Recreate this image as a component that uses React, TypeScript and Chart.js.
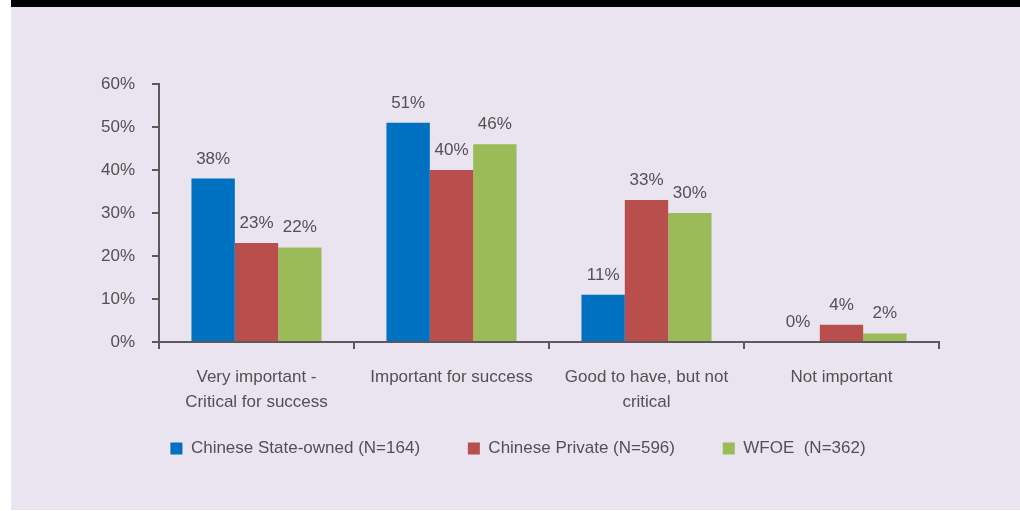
import React, { useEffect, useRef } from "react";
import { Chart, registerables } from "chart.js";

Chart.register(...registerables);

const categories: string[][] = [
  ["Very important -", "Critical for success"],
  ["Important for success"],
  ["Good to have, but not", "critical"],
  ["Not important"],
];
const seriesNames = ["Chinese State-owned (N=164)", "Chinese Private (N=596)", "WFOE  (N=362)"];
const stateOwned = [38, 51, 11, 0];
const privateCos = [23, 40, 33, 4];
const wfoe = [22, 46, 30, 2];
const yTicks = [0, 10, 20, 30, 40, 50, 60];
const colors = ["#0070c0", "#b94f4c", "#9bbb59"];

const FONT = "'Liberation Sans', Arial, sans-serif";
const FS = 17;
const TEXT = "#505153";
const AXIS = "#5a5a5c";

const labelPlugin = {
  id: "barValueLabels",
  afterDatasetsDraw(chart: any) {
    const ctx = chart.ctx;
    ctx.save();
    ctx.font = `${FS}px ${FONT}`;
    ctx.fillStyle = TEXT;
    ctx.textAlign = "center";
    ctx.textBaseline = "alphabetic";
    chart.data.datasets.forEach((ds: any, i: number) => {
      const meta = chart.getDatasetMeta(i);
      meta.data.forEach((bar: any, j: number) => {
        ctx.fillText(`${ds.data[j]}%`, bar.x, bar.y - 15);
      });
    });
    ctx.restore();
  },
};

export default function App() {
  const ref = useRef<HTMLCanvasElement>(null);
  useEffect(() => {
    if (!ref.current) return;
    const series = [stateOwned, privateCos, wfoe];
    const chart = new Chart(ref.current, {
      type: "bar",
      data: {
        labels: categories,
        datasets: series.map((d, i) => ({
          label: seriesNames[i],
          data: d,
          backgroundColor: colors[i],
          borderWidth: 0,
          categoryPercentage: 0.667,
          barPercentage: 1,
        })),
      },
      options: {
        animation: false,
        responsive: false,
        maintainAspectRatio: false,
        layout: { padding: { left: 97, right: 81, top: 84, bottom: 44 } },
        plugins: {
          tooltip: { enabled: false },
          legend: {
            position: "bottom",
            labels: {
              font: { family: FONT, size: FS },
              color: TEXT,
              boxWidth: 12,
              boxHeight: 12,
              padding: 10,
              generateLabels: (chart: any) =>
                chart.data.datasets.map((ds: any, i: number) => ({
                  text: ds.label + (i < chart.data.datasets.length - 1 ? "\u00a0".repeat(8) : ""),
                  fillStyle: ds.backgroundColor,
                  strokeStyle: ds.backgroundColor,
                  lineWidth: 0,
                  fontColor: TEXT,
                  datasetIndex: i,
                  hidden: false,
                })),
            },
          },
        },
        scales: {
          x: {
            afterFit: (s: any) => {
              s.height = 88;
            },
            grid: {
              display: true,
              drawOnChartArea: false,
              drawTicks: true,
              tickLength: 7,
              color: AXIS,
              lineWidth: 2,
              offset: true,
            },
            border: { display: true, color: AXIS, width: 2 },
            ticks: {
              font: { family: FONT, size: FS, lineHeight: 1.47 },
              color: TEXT,
              padding: 16,
              maxRotation: 0,
              autoSkip: false,
            },
          },
          y: {
            min: 0,
            max: 60,
            afterFit: (s: any) => {
              s.width = 62;
            },
            afterBuildTicks: (s: any) => {
              s.ticks = yTicks.map((v) => ({ value: v }));
            },
            grid: {
              display: true,
              drawOnChartArea: false,
              drawTicks: true,
              tickLength: 7,
              color: AXIS,
              lineWidth: 2,
            },
            border: { display: true, color: AXIS, width: 2 },
            ticks: {
              font: { family: FONT, size: FS },
              color: TEXT,
              padding: 17,
              callback: (v: any) => `${v}%`,
            },
          },
        },
      },
      plugins: [labelPlugin],
    });
    return () => chart.destroy();
  }, []);

  return (
    <div style={{ position: "fixed", left: 0, top: 0, width: 1020, height: 511, background: "#ffffff" }}>
      <div style={{ position: "absolute", left: 11, top: 0, width: 1009, height: 7, background: "#000000" }} />
      <div style={{ position: "absolute", left: 11, top: 7, width: 1009, height: 503, background: "#e9e4ef" }} />
      <canvas ref={ref} width={1020} height={511} style={{ position: "absolute", left: 0, top: 0, width: 1020, height: 511 }} />
    </div>
  );
}
